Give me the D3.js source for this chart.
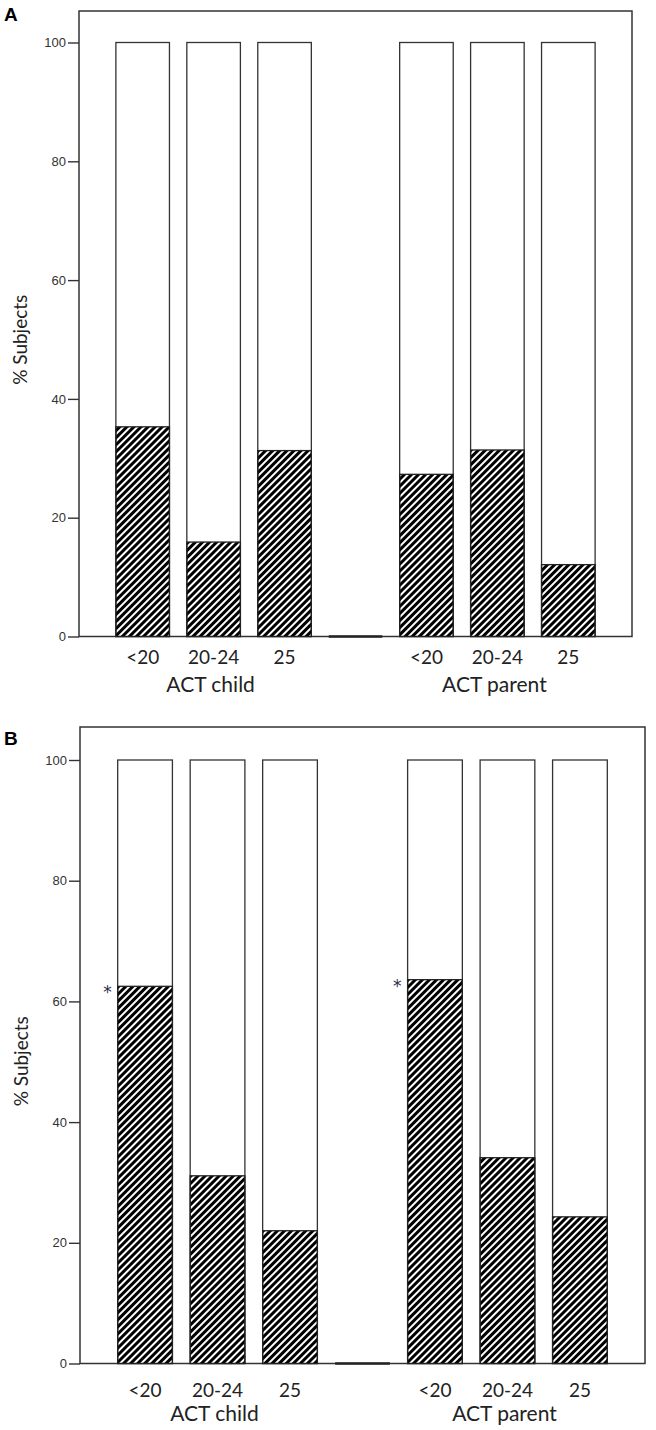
<!DOCTYPE html>
<html>
<head>
<meta charset="utf-8">
<script src="https://cdn.jsdelivr.net/npm/d3@7"></script>
<style>
  body { margin: 0; background: #fff; }
  svg { display: block; }
</style>
</head>
<body>
<svg id="chart" width="656" height="1430"></svg>
<script>
// data
const groups = ['ACT child', 'ACT parent']
const ageBands = ['<20', '20-24', '25']
const yTicks = [0, 20, 40, 60, 80, 100]

// % subjects in the hatched part of each bar, per panel and group
const panelAChild = [35.3, 15.9, 31.3]
const panelAParent = [27.3, 31.4, 12.1]
const panelBChild = [62.5, 31.1, 22.0]
const panelBParent = [63.6, 34.1, 24.3]
const panelBStars = ['<20']

const svg = d3.select('#chart')

// diagonal hatching
const defs = svg.append('defs')
defs.append('pattern')
  .attr('id', 'hatch')
  .attr('patternUnits', 'userSpaceOnUse')
  .attr('width', 5)
  .attr('height', 5)
  .attr('patternTransform', 'rotate(45)')
  .append('rect')
  .attr('width', 3)
  .attr('height', 5)
  .attr('fill', '#000')

// slot keys: 3 bars, empty gap slot, 3 bars
const slots = []
groups.forEach(function (g, gi) {
  ageBands.forEach(function (b) { slots.push(g + '|' + b) })
  if (gi === 0) slots.push('gap')
})

function drawPanel (opts) {
  const { label, left, right, top, zero, full, child, parent, stars, labelY, catDy, groupDy } = opts

  const x = d3.scaleBand()
    .domain(slots)
    .range([left, right])
    .paddingInner(0.245)
    .paddingOuter(0.52)

  const y = d3.scaleLinear()
    .domain([0, 100])
    .range([zero, full])

  const g = svg.append('g')

  const bars = []
  groups.forEach(function (grp, gi) {
    const vals = gi === 0 ? child : parent
    ageBands.forEach(function (b, bi) {
      bars.push({ key: grp + '|' + b, group: grp, band: b, value: vals[bi] })
    })
  })

  // frame
  g.append('rect')
    .attr('x', left)
    .attr('y', top)
    .attr('width', right - left)
    .attr('height', zero - top)
    .attr('fill', 'none')
    .attr('stroke', '#333')
    .attr('stroke-width', 1.5)

  // whole bar outline up to 100 %
  g.selectAll('.bar-bg')
    .data(bars)
    .enter()
    .append('rect')
    .attr('class', 'bar-bg')
    .attr('x', d => x(d.key))
    .attr('y', y(100))
    .attr('width', x.bandwidth())
    .attr('height', zero - y(100))
    .attr('fill', '#fff')
    .attr('stroke', '#333')
    .attr('stroke-width', 1.3)

  // hatched share
  g.selectAll('.bar')
    .data(bars)
    .enter()
    .append('rect')
    .attr('class', 'bar')
    .attr('x', d => x(d.key))
    .attr('y', d => y(d.value))
    .attr('width', x.bandwidth())
    .attr('height', d => zero - y(d.value))
    .attr('fill', 'url(#hatch)')
    .attr('stroke', '#222')
    .attr('stroke-width', 1.3)

  // the empty slot between the two groups
  g.append('line')
    .attr('x1', x('gap'))
    .attr('x2', x('gap') + x.bandwidth())
    .attr('y1', zero)
    .attr('y2', zero)
    .attr('stroke', '#222')
    .attr('stroke-width', 2.6)

  // y axis
  const yAxis = g.append('g')
    .attr('transform', 'translate(' + left + ',0)')
    .call(d3.axisLeft(y).tickValues(yTicks).tickSize(11).tickPadding(2))
  yAxis.select('.domain').remove()
  yAxis.selectAll('line').attr('stroke', '#333').attr('stroke-width', 1.4)
  yAxis.selectAll('text')
    .attr('font-family', 'Liberation Sans, Arial, sans-serif')
    .attr('font-size', 13)
    .attr('fill', '#333')

  g.append('text')
    .attr('transform', 'translate(' + (left - 52) + ',' + ((zero + top) / 2 + 16) + ') rotate(-90)')
    .attr('text-anchor', 'middle')
    .attr('font-family', 'Lato, sans-serif')
    .attr('font-size', 19)
    .attr('fill', '#222')
    .text('% Subjects')

  // category labels
  g.selectAll('.cat')
    .data(bars)
    .enter()
    .append('text')
    .attr('class', 'cat')
    .attr('x', d => x(d.key) + x.bandwidth() / 2)
    .attr('y', zero + catDy)
    .attr('text-anchor', 'middle')
    .attr('font-family', 'Lato, sans-serif')
    .attr('font-size', 19)
    .attr('fill', '#222')
    .text(d => d.band)

  // group labels under the middle bar of each group
  g.selectAll('.grp')
    .data(groups)
    .enter()
    .append('text')
    .attr('class', 'grp')
    .attr('x', d => x(d + '|' + ageBands[1]) + x.bandwidth() / 2 - 3)
    .attr('y', zero + groupDy)
    .attr('text-anchor', 'middle')
    .attr('font-family', 'Lato, sans-serif')
    .attr('font-size', 21)
    .attr('fill', '#222')
    .text(d => d)

  // significance marks
  g.selectAll('.star')
    .data(bars.filter(d => stars.indexOf(d.band) >= 0))
    .enter()
    .append('text')
    .attr('class', 'star')
    .attr('x', d => x(d.key) - 6)
    .attr('y', d => y(d.value) + 12)
    .attr('text-anchor', 'end')
    .attr('font-family', 'DejaVu Sans, sans-serif')
    .attr('font-size', 17)
    .attr('fill', '#2b2b4a')
    .text('*')

  // panel letter
  svg.append('text')
    .attr('x', 4)
    .attr('y', labelY)
    .attr('font-family', 'Liberation Sans, Arial, sans-serif')
    .attr('font-weight', 'bold')
    .attr('font-size', 19)
    .attr('fill', '#000')
    .text(label)
}

drawPanel({
  label: 'A', left: 79, right: 632, top: 11, zero: 636.5, full: 42.5,
  child: panelAChild, parent: panelAParent, stars: [],
  labelY: 21, catDy: 27, groupDy: 55
})

drawPanel({
  label: 'B', left: 80, right: 645, top: 727, zero: 1363.5, full: 760,
  child: panelBChild, parent: panelBParent, stars: panelBStars,
  labelY: 745, catDy: 33, groupDy: 57
})
</script>
</body>
</html>
